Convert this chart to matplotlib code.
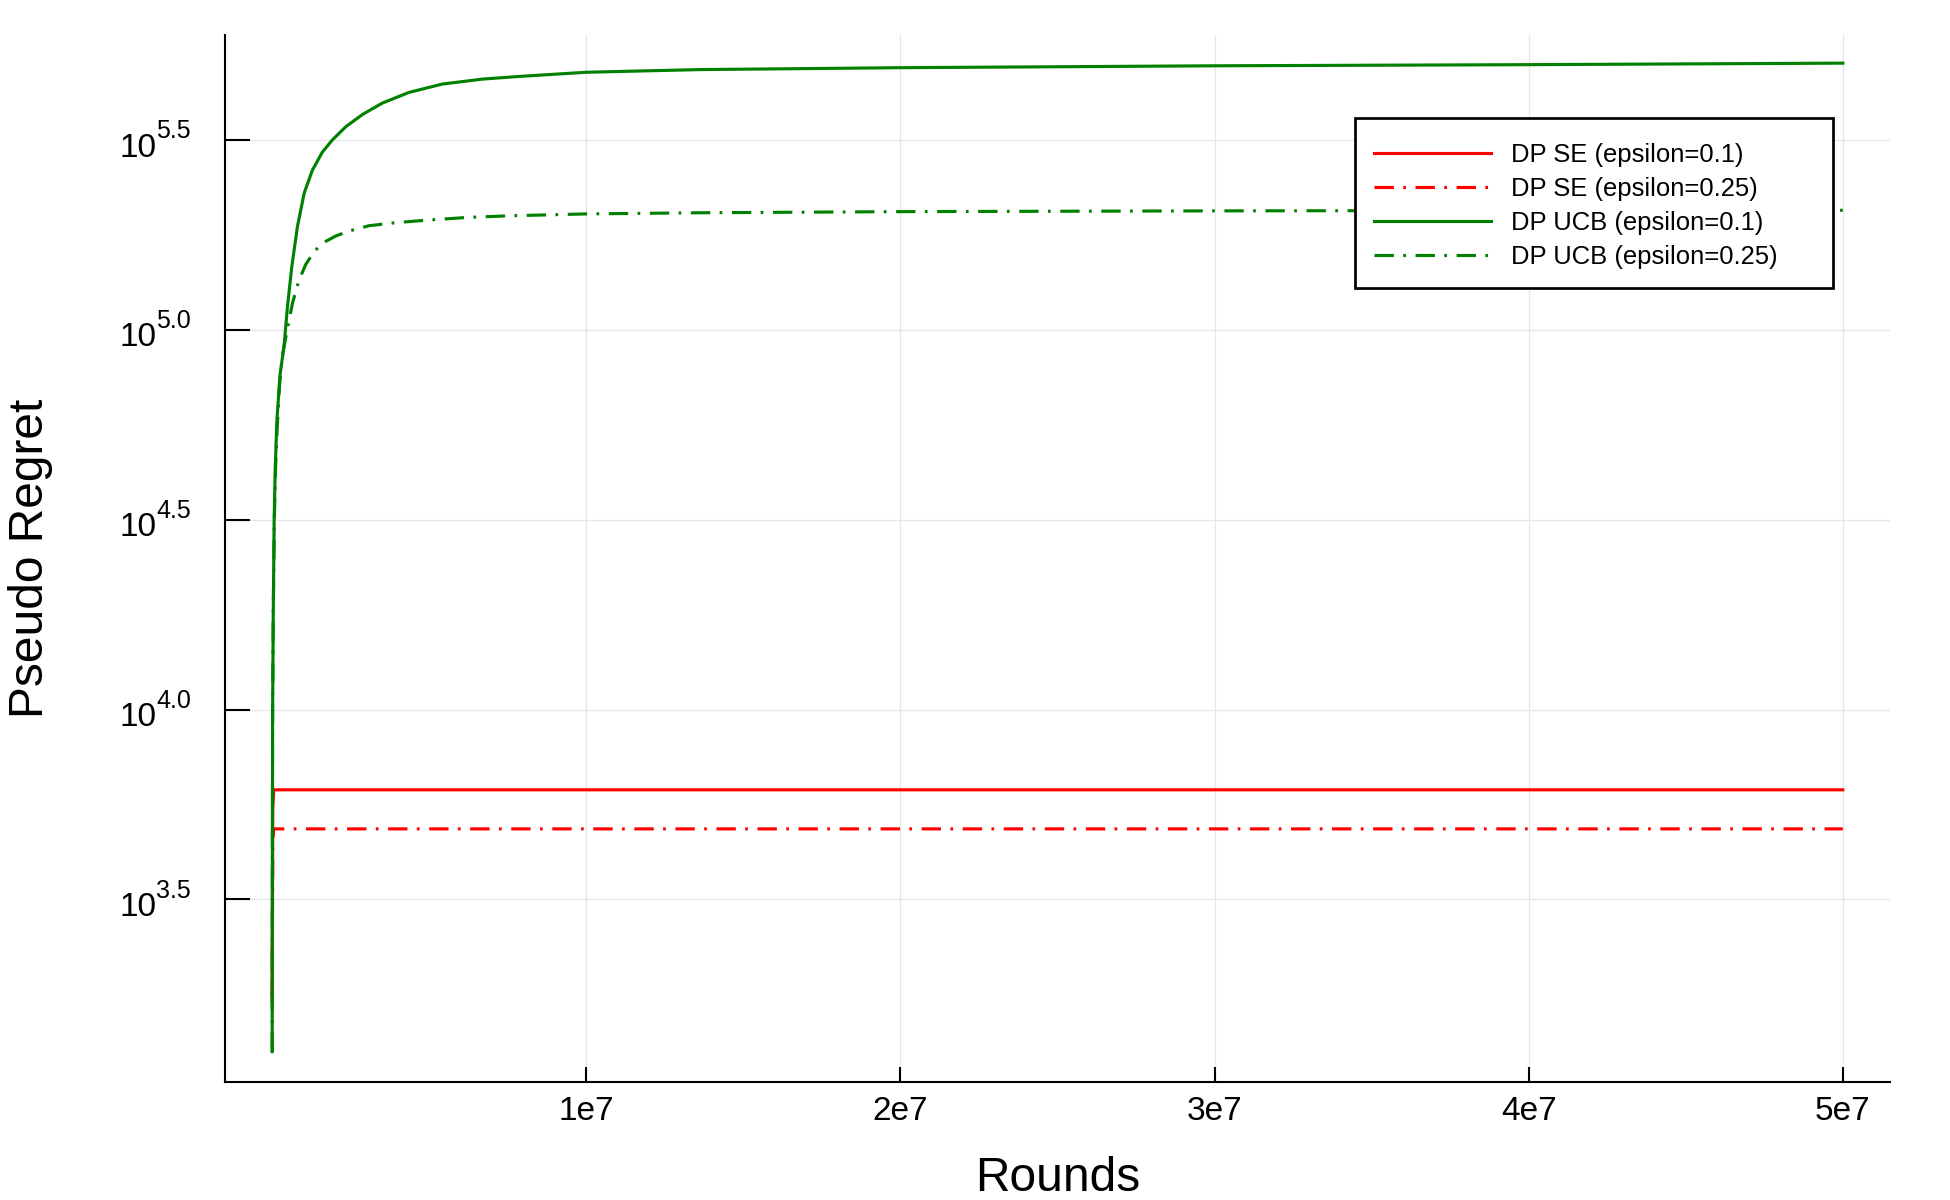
import matplotlib
matplotlib.use("Agg")
import matplotlib.pyplot as plt
from matplotlib import transforms
from matplotlib.patches import Rectangle

plt.rcParams['font.family'] = ['Liberation Sans', 'DejaVu Sans']
plt.rcParams['lines.scale_dashes'] = False

# values (rounds, pseudo regret)
rounds_se = [1e3, 2e4, 5e4, 5e7]
se_eps01 = [1780, 5500, 6145, 6145]
se_eps025 = [1700, 4500, 4849, 4849]

rounds_ucb01 = [1e3, 5e3, 1.5e4, 3.5e4, 6.4e4, 1e5, 1.5e5, 2.5e5, 3.82e5, 4.88e5,
                6.27e5, 8.06e5, 1.02e6, 1.28e6, 1.6e6, 1.92e6, 2.35e6, 2.88e6, 3.51e6,
                4.36e6, 5.42e6, 6.7e6, 7.87e6, 1e7, 1.36e7, 2e7, 3e7, 4e7, 5e7]
ucb_eps01 = [1256, 3162, 10000, 17783, 31623, 43652, 57544, 75858, 91201, 115080,
             146893, 187068, 229087, 263027, 293765, 316228, 342768, 368978, 395367,
             421697, 443609, 457088, 464515, 476431, 484172, 489779, 495450, 498884, 503501]

rounds_ucb025 = [1e3, 5e3, 1.5e4, 3.5e4, 7e4, 1.1e5, 1.6e5, 2.3e5, 3.2e5, 4.88e5,
                 6.47e5, 8.6e5, 1.07e6, 1.34e6, 1.6e6, 2.03e6, 2.45e6, 3.09e6, 3.94e6,
                 5e6, 6.27e6, 7.55e6, 1e7, 1.36e7, 2e7, 3e7, 4e7, 5e7]
ucb_eps025 = [1256, 3162, 10000, 17783, 31623, 43652, 54954, 70795, 85114, 100925,
              117490, 135519, 148594, 160694, 169044, 176604, 181970, 187932, 191426,
              194536, 197697, 199526, 201837, 203236, 204644, 205589, 206063, 206300]

labels = ["DP SE (epsilon=0.1)", "DP SE (epsilon=0.25)",
          "DP UCB (epsilon=0.1)", "DP UCB (epsilon=0.25)"]

xticks = [1e7, 2e7, 3e7, 4e7, 5e7]
xtick_labels = ["1e7", "2e7", "3e7", "4e7", "5e7"]
yticks = [10 ** 3.5, 10 ** 4.0, 10 ** 4.5, 10 ** 5.0, 10 ** 5.5]
ytick_exp = ["3.5", "4.0", "4.5", "5.0", "5.5"]

dashdot = (9.3, 4.5, 1.3, 4.6)

fig = plt.figure(figsize=(13, 8), dpi=150)
ax = fig.add_axes([0.1154, 0.0986, 0.9692 - 0.1154, 0.9708 - 0.0986])

ax.plot(rounds_se, se_eps01, color='#ff0000', lw=1.5, label=labels[0])
ax.plot(rounds_se, se_eps025, color='#ff0000', lw=1.5, dashes=dashdot, label=labels[1])
ax.plot(rounds_ucb01, ucb_eps01, color='#008000', lw=1.5, label=labels[2])
ax.plot(rounds_ucb025, ucb_eps025, color='#008000', lw=1.5, dashes=dashdot, label=labels[3])

ax.set_yscale('log')
ax.set_xlim(-1.5e6, 5.15e7)
ax.set_ylim(10 ** 3.02, 10 ** 5.776)

ax.set_xticks(xticks)
ax.set_xticklabels(xtick_labels)
ax.set_yticks(yticks)
ax.set_yticklabels([])
ax.minorticks_off()

ax.tick_params(axis='both', direction='in', width=1, labelsize=16, color='black')
ax.tick_params(axis='x', length=7.4, pad=7)
ax.tick_params(axis='y', length=12)

# y tick labels as 10 with a raised exponent
blend = transforms.blended_transform_factory(ax.transAxes, ax.transData)
base_tr = transforms.offset_copy(blend, fig=fig, x=-33.0, y=-8.0, units='points')
exp_tr = transforms.offset_copy(blend, fig=fig, x=-33.0, y=0.8, units='points')
for val, e in zip(yticks, ytick_exp):
    ax.text(0, val, "10", transform=base_tr, ha='right', va='baseline', fontsize=16)
    ax.text(0, val, e, transform=exp_tr, ha='left', va='baseline', fontsize=12)

for s in ['top', 'right']:
    ax.spines[s].set_visible(False)
for s in ['left', 'bottom']:
    ax.spines[s].set_linewidth(1)

ax.grid(True, color='#e6e6e6', lw=0.6)
ax.set_axisbelow(True)

ax.set_xlabel("Rounds", fontsize=23)
ax.set_ylabel("Pseudo Regret", fontsize=23)
ax.xaxis.set_label_coords(0.5, -0.0712)
ax.yaxis.set_label_coords(-0.1036, 0.5)

# legend box
box = Rectangle((0.6787, 0.7583), 0.9656 - 0.6787, 0.9204 - 0.7583, transform=ax.transAxes,
                facecolor='white', edgecolor='black', lw=1.3, zorder=4, clip_on=False)
ax.add_patch(box)
leg = ax.legend(loc='upper left', bbox_to_anchor=(0.6757, 0.9204), borderaxespad=0,
                fontsize=12.3, frameon=False, handlelength=4.57, handletextpad=0.78,
                labelspacing=0.395, borderpad=0.95)
leg.set_zorder(5)

fig.savefig("out.png", dpi=150)
